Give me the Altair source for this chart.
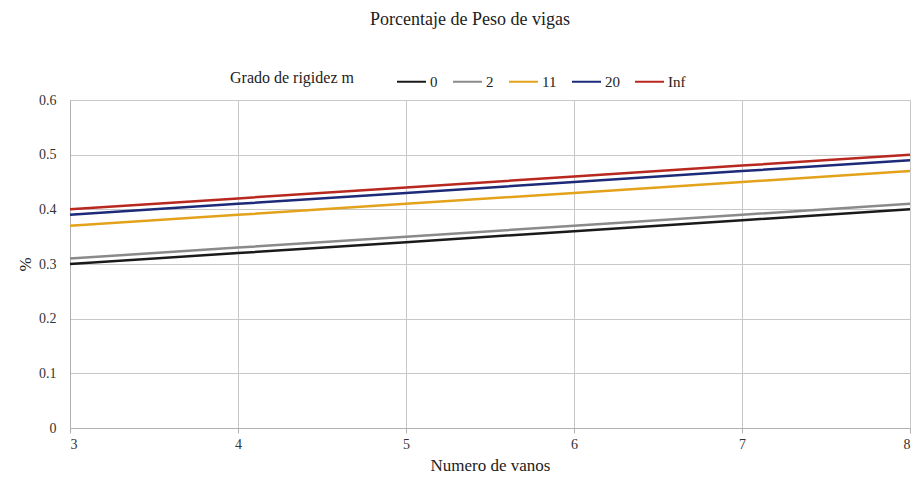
import altair as alt
import pandas as pd

vanos = [3, 4, 5, 6, 7, 8]
m_0 = [0.30, 0.32, 0.34, 0.36, 0.38, 0.40]
m_2 = [0.31, 0.33, 0.35, 0.37, 0.39, 0.41]
m_11 = [0.37, 0.39, 0.41, 0.43, 0.45, 0.47]
m_20 = [0.39, 0.41, 0.43, 0.45, 0.47, 0.49]
m_inf = [0.40, 0.42, 0.44, 0.46, 0.48, 0.50]
y_ticks = [0, 0.1, 0.2, 0.3, 0.4, 0.5, 0.6]

series = {"0": m_0, "2": m_2, "11": m_11, "20": m_20, "Inf": m_inf}
order = list(series.keys())
colors = ["#1a1a1a", "#8a8a8a", "#e3a21a", "#1c2a78", "#b8281e"]

rows = []
for name, vals in series.items():
    for x, y in zip(vanos, vals):
        rows.append({"vanos": x, "pct": y, "m": name})
df = pd.DataFrame(rows)

FONT = "Liberation Serif"

chart = alt.Chart(df).mark_line(strokeWidth=2.5).encode(
    x=alt.X("vanos:Q", title="Numero de vanos",
            scale=alt.Scale(domain=[3, 8], nice=False),
            axis=alt.Axis(values=vanos, format="d")),
    y=alt.Y("pct:Q", title="%",
            scale=alt.Scale(domain=[0, 0.6], nice=False),
            axis=alt.Axis(values=y_ticks,
                          labelExpr="datum.value == 0 ? '0' : format(datum.value, '.1f')")),
    color=alt.Color("m:N", sort=order,
                    scale=alt.Scale(domain=order, range=colors),
                    legend=alt.Legend(title="Grado de rigidez m", orient="none",
                                      legendX=160, legendY=-34,
                                      direction="horizontal", titleOrient="left",
                                      symbolType="stroke", symbolSize=841,
                                      symbolStrokeWidth=2, columnPadding=11,
                                      labelOffset=3, titlePadding=42)),
    detail="m:N",
).properties(
    width=840, height=328,
    title=alt.TitleParams("Porcentaje de Peso de vigas", fontSize=18,
                          font=FONT, fontWeight="normal", color="#222",
                          offset=37, dx=-20, anchor="middle", frame="group"),
    padding={"left": 62, "top": 92, "right": 5, "bottom": 48},
    autosize=alt.AutoSizeParams(type="none"),
).configure_axis(
    labelFont=FONT, titleFont=FONT, labelFontSize=14, titleFontSize=17,
    titleFontWeight="normal", labelColor="#333", titleColor="#222",
    gridColor="#c8c8c8", domainColor="#b0b0b0", tickColor="#b0b0b0",
    domain=True, grid=True,
).configure_axisX(
    labelPadding=4, titlePadding=6, tickSize=5,
).configure_axisY(
    labelPadding=14, titlePadding=4, ticks=False, titleAngle=270,
).configure_legend(
    labelFont=FONT, titleFont=FONT, labelFontSize=15, titleFontSize=16,
    titleFontWeight="normal", labelColor="#222", titleColor="#222",
).configure_view(stroke="#c8c8c8")

chart.save("out.html", embed_options={"renderer": "svg", "actions": False})
